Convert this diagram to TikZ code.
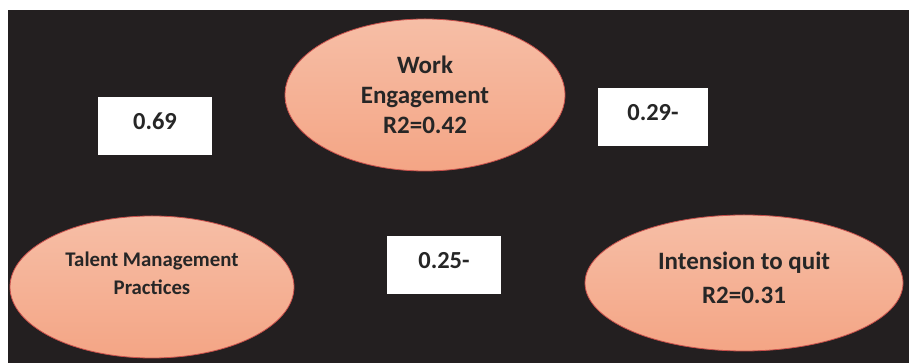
\documentclass[tikz,border=0pt]{standalone}
\usepackage{fontspec}
\setmainfont{Carlito}
\usetikzlibrary{shapes.geometric}

\definecolor{bgdark}{HTML}{231F20}
\definecolor{peachtop}{HTML}{F6BEA6}
\definecolor{peachbot}{HTML}{F4A585}
\definecolor{rimred}{HTML}{C9504C}
\definecolor{inkdark}{HTML}{262626}

\tikzset{
  bubble/.style={ellipse, draw=rimred, line width=0.8pt,
    top color=peachtop, bottom color=peachbot, inner sep=0pt},
  bubbletext/.style={text=inkdark, font=\bfseries, align=center},
  coef/.style={rectangle, fill=white, minimum width=114pt, minimum height=58pt,
    inner sep=0pt, text height=17pt, text depth=9pt, text=inkdark,
    font=\fontsize{24.5}{28}\selectfont\bfseries}
}

\begin{document}
\begin{tikzpicture}[x=1pt,y=1pt]
  \useasboundingbox (0,0) rectangle (909,363);
  \fill[white] (0,0) rectangle (909,363);
  \fill[bgdark] (8,0) rectangle (909,353);

  % the three constructs
  \node[bubble, minimum width=280pt, minimum height=152pt] (we) at (425,268) {};
  \node[bubble, minimum width=284pt, minimum height=142pt] (tm) at (152,76) {};
  \node[bubble, minimum width=318pt, minimum height=136pt] (iq) at (744,80) {};

  \node[bubbletext, font=\fontsize{25}{30}\selectfont\bfseries] (wetext)
    at (we.center) {Work\\Engagement\\R2=0.42};
  \node[bubbletext, font=\fontsize{20.8}{28}\selectfont\bfseries] (tmtext)
    at ([yshift=14pt]tm.center) {Talent Management\\Practices};
  \node[bubbletext, font=\fontsize{25}{34}\selectfont\bfseries] (iqtext)
    at ([yshift=5pt]iq.center) {Intension to quit\\R2=0.31};

  % path coefficients
  \node[coef] (c1) at (155,237) {0.69};
  \node[coef, minimum width=110pt] (c2) at (653,246) {0.29-};
  \node[coef] (c3) at (444,98) {0.25-};
\end{tikzpicture}
\end{document}
